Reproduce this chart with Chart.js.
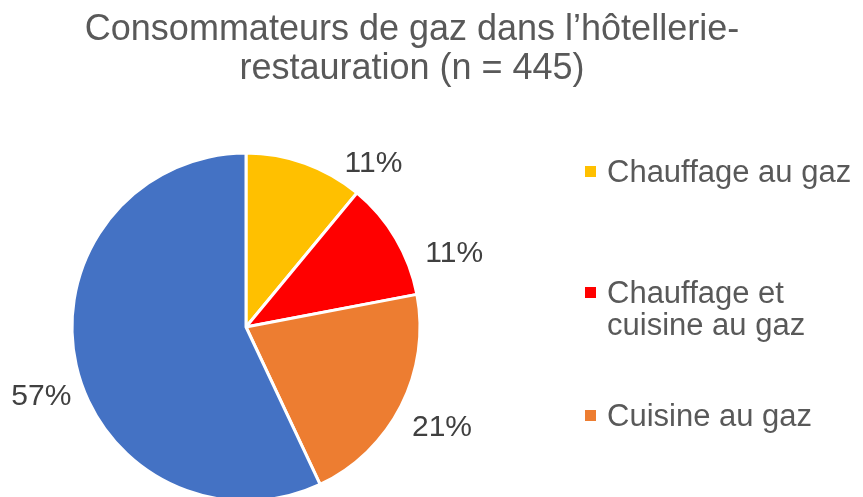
<!DOCTYPE html>
<html>
<head>
<meta charset="utf-8">
<script src="https://cdn.jsdelivr.net/npm/chart.js@4.4.1/dist/chart.umd.min.js"></script>
<style>
  html, body { margin: 0; padding: 0; background: #fff; overflow: hidden; }
  #wrap { position: relative; width: 863px; height: 560px; font-family: "Liberation Sans", Arial, sans-serif; }
  #chartBox { position: absolute; left: 0; top: 0; width: 863px; height: 560px; }
  #title { position: absolute; left: 0; top: 8px; width: 824px; text-align: center;
           font-size: 36px; line-height: 39px; color: #595959; }
  .leg { position: absolute; left: 607px; font-size: 31px; line-height: 32px; color: #595959; }
  .leg i { position: absolute; left: -22px; width: 11px; height: 11px; }
</style>
</head>
<body>
<div id="wrap">
  <div id="chartBox"><canvas id="pie"></canvas></div>
  <div id="title"></div>
</div>
<script>
// data
const titleLines = ['Consommateurs de gaz dans l’hôtellerie-', 'restauration (n = 445)'];
const categories = ['Chauffage au gaz', 'Chauffage et cuisine au gaz', 'Cuisine au gaz', 'Autres'];
const shares = [11, 11, 21, 57];
const colors = ['#FFC000', '#FF0000', '#ED7D31', '#4472C4'];

// layout of the legend (only the first 3 entries fit in the frame)
const legendLines = [['Chauffage au gaz'], ['Chauffage et', 'cuisine au gaz'], ['Cuisine au gaz']];
const legendTops = [156, 277, 400];

// label placement relative to each slice's mid angle (degrees, px beyond the rim)
const labelShift = [18, 11, 0, -6];
const labelGap = [34, 47, 46, 42];

document.getElementById('title').innerHTML = titleLines.join('<br>');

const wrap = document.getElementById('wrap');
legendLines.forEach(function (lines, i) {
    const d = document.createElement('div');
    d.className = 'leg';
    d.style.top = legendTops[i] + 'px';
    d.innerHTML = '<i style="top:10px;background:' + colors[i] + '"></i>' + lines.join('<br>');
    wrap.appendChild(d);
});

// percent labels outside the pie
const outsideLabels = {
    id: 'outsideLabels',
    afterDatasetsDraw(chart) {
        const ctx = chart.ctx;
        const meta = chart.getDatasetMeta(0);
        ctx.save();
        ctx.font = '30px "Liberation Sans", Arial, sans-serif';
        ctx.fillStyle = '#404040';
        ctx.textAlign = 'center';
        ctx.textBaseline = 'middle';
        meta.data.forEach(function (arc, i) {
            const mid = (arc.startAngle + arc.endAngle) / 2 + labelShift[i] * Math.PI / 180;
            const r = arc.outerRadius + labelGap[i];
            const x = arc.x + Math.cos(mid) * r;
            const y = arc.y + Math.sin(mid) * r;
            ctx.fillText(shares[i] + '%', x, y + 1);
        });
        ctx.restore();
    }
};

new Chart(document.getElementById('pie'), {
    type: 'pie',
    data: {
        labels: categories,
        datasets: [{
            data: shares,
            backgroundColor: colors,
            borderColor: '#ffffff',
            borderWidth: 3
        }]
    },
    options: {
        responsive: true,
        maintainAspectRatio: false,
        animation: false,
        radius: 174,
        layout: { padding: { left: 0, right: 371, top: 94, bottom: 0 } },
        plugins: {
            legend: { display: false },
            title: { display: false },
            tooltip: { enabled: false }
        }
    },
    plugins: [outsideLabels]
});
</script>
</body>
</html>
